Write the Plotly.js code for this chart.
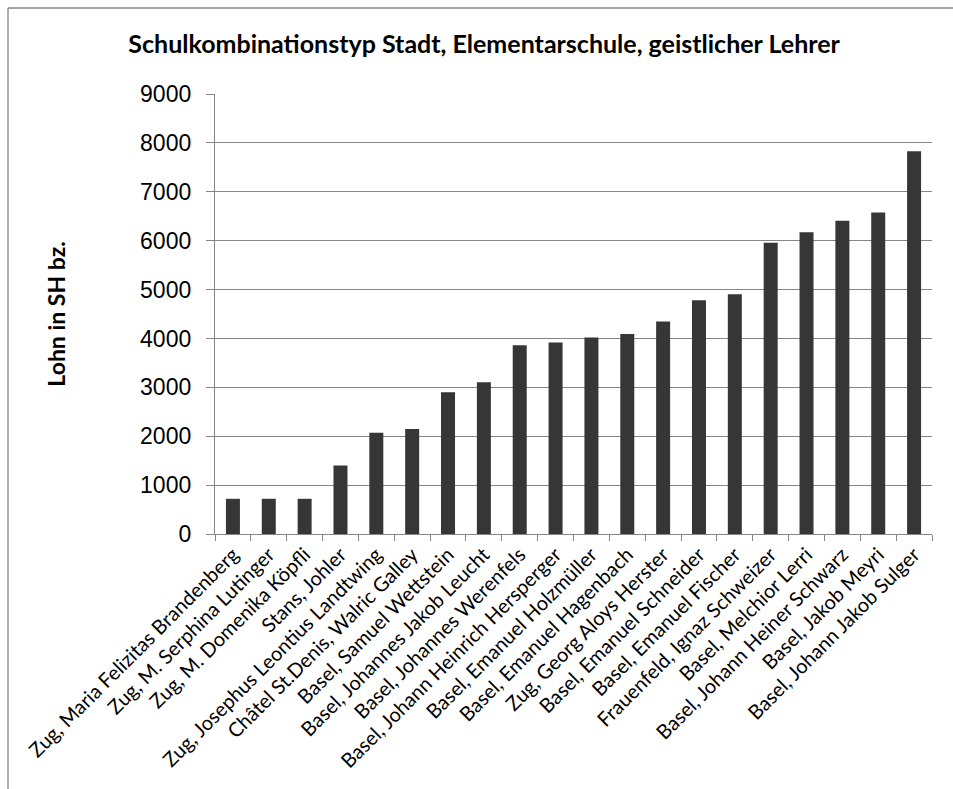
<!DOCTYPE html>
<html>
<head>
<meta charset="utf-8">
<script src="https://cdn.plot.ly/plotly-3.0.1.min.js"></script>
<style>
html,body{margin:0;padding:0;background:#fff;}
#chart{width:953px;height:789px;}
</style>
</head>
<body>
<div id="chart"></div>
<script>
const categories = [
  "Zug, Maria Felizitas Brandenberg",
  "Zug, M. Serphina Lutinger",
  "Zug, M. Domenika Köpfli",
  "Stans, Johler",
  "Zug, Josephus Leontius Landtwing",
  "Châtel St.Denis, Walric Galley",
  "Basel, Samuel Wettstein",
  "Basel, Johannes Jakob Leucht",
  "Basel, Johannes Werenfels",
  "Basel, Johann Heinrich Hersperger",
  "Basel, Emanuel Holzmüller",
  "Basel, Emanuel Hagenbach",
  "Zug, Georg Aloys Herster",
  "Basel, Emanuel Schneider",
  "Basel, Emanuel Fischer",
  "Frauenfeld, Ignaz Schweizer",
  "Basel, Melchior Lerri",
  "Basel, Johann Heiner Schwarz",
  "Basel, Jakob Meyri",
  "Basel, Johann Jakob Sulger"
];
const lohn = [720, 720, 720, 1400, 2070, 2150, 2900, 3105, 3860, 3915, 4020, 4090, 4345, 4780, 4905, 5955, 6170, 6405, 6575, 7830];
const yTicks = [0, 1000, 2000, 3000, 4000, 5000, 6000, 7000, 8000, 9000];
const titleText = "Schulkombinationstyp Stadt, Elementarschule, geistlicher Lehrer";
const yTitle = "Lohn in SH bz.";

const grey = "#868686";
const labelFont = "Lato, 'Open Sans', sans-serif";

const data = [{
  type: "bar",
  x: categories,
  y: lohn,
  marker: {color: "#363636", line: {width: 0}},
  hoverinfo: "x+y"
}];

const layout = {
  width: 953, height: 789,
  paper_bgcolor: "#ffffff", plot_bgcolor: "#ffffff",
  margin: {l: 215, r: 21, t: 94, b: 255, pad: 0},
  bargap: 0.61,
  showlegend: false,
  title: {
    text: "<b>" + titleText + "</b>",
    font: {family: labelFont, size: 25, color: "#000000"},
    xref: "container", x: 0.508, xanchor: "center",
    yref: "container", y: 1 - 44/789, yanchor: "middle"
  },
  xaxis: {
    type: "category",
    tickangle: -45,
    tickfont: {family: labelFont, size: 20, color: "#000000"},
    showline: true, linecolor: grey, linewidth: 1.3,
    ticks: "outside", tickson: "boundaries", ticklen: 6, tickcolor: grey, tickwidth: 1.3,
    showgrid: false, zeroline: false,
    automargin: false
  },
  yaxis: {
    range: [0, 9000],
    tickvals: yTicks,
    ticktext: yTicks.map(String),
    tickfont: {family: "'Liberation Sans', Arial, sans-serif", size: 23, color: "#000000"},
    showline: true, linecolor: grey, linewidth: 1.3,
    ticks: "outside", ticklen: 8, tickcolor: grey, tickwidth: 1.3,
    showgrid: true, gridcolor: grey, gridwidth: 1.3,
    zeroline: false,
    ticklabelstandoff: 10,
    automargin: false,
    title: {
      text: "<b>" + yTitle + "</b>",
      font: {family: labelFont, size: 23, color: "#000000"},
      standoff: 68
    }
  },
  shapes: [
    {type: "line", xref: "paper", yref: "paper",
     x0: (8 - 215)/717, x1: (8 - 215)/717, y0: (534 - 8)/440, y1: (534 - 800)/440,
     line: {color: grey, width: 1.3}},
    {type: "line", xref: "paper", yref: "paper",
     x0: (8 - 215)/717, x1: (960 - 215)/717, y0: (534 - 8)/440, y1: (534 - 8)/440,
     line: {color: grey, width: 1.3}}
  ]
};

Plotly.newPlot("chart", data, layout, {displayModeBar: false, staticPlot: false});
</script>
</body>
</html>
